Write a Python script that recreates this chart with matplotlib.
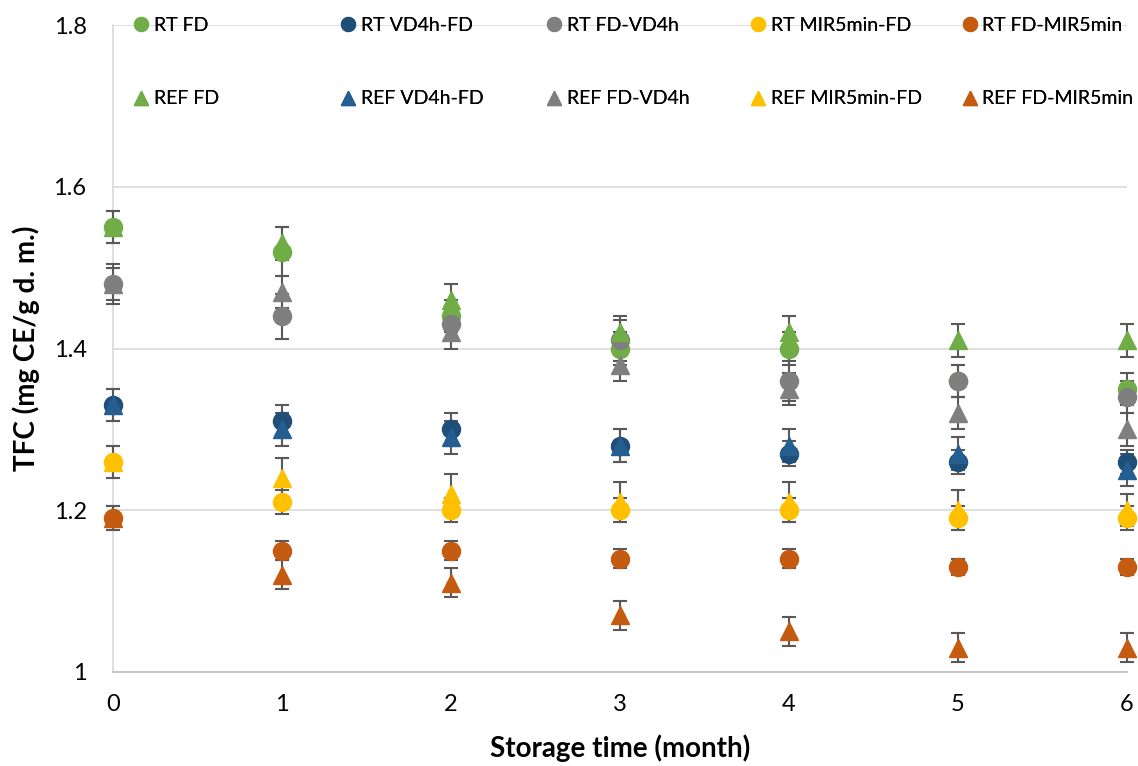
import matplotlib.pyplot as plt
from matplotlib.ticker import FuncFormatter
from matplotlib.lines import Line2D

plt.rcParams['font.family'] = ['Lato', 'DejaVu Sans']

months = [0, 1, 2, 3, 4, 5, 6]

# mean TFC values (mg CE/g d. m.)
rt_fd = [1.55, 1.52, 1.44, 1.40, 1.40, 1.36, 1.35]
rt_vd4h_fd = [1.33, 1.31, 1.30, 1.28, 1.27, 1.26, 1.26]
rt_fd_vd4h = [1.48, 1.44, 1.43, 1.41, 1.36, 1.36, 1.34]
rt_mir_fd = [1.26, 1.21, 1.20, 1.20, 1.20, 1.19, 1.19]
rt_fd_mir = [1.19, 1.15, 1.15, 1.14, 1.14, 1.13, 1.13]

ref_fd = [1.55, 1.53, 1.46, 1.42, 1.42, 1.41, 1.41]
ref_vd4h_fd = [1.33, 1.30, 1.29, 1.28, 1.28, 1.27, 1.25]
ref_fd_vd4h = [1.48, 1.47, 1.42, 1.38, 1.35, 1.32, 1.30]
ref_mir_fd = [1.26, 1.24, 1.22, 1.21, 1.21, 1.20, 1.20]
ref_fd_mir = [1.19, 1.12, 1.11, 1.07, 1.05, 1.03, 1.03]

# standard deviations (error bars)
rt_fd_err = [0.02, 0.03, 0.02, 0.02, 0.02, 0.02, 0.02]
rt_vd4h_fd_err = [0.02, 0.02, 0.02, 0.02, 0.015, 0.015, 0.015]
rt_fd_vd4h_err = [0.025, 0.028, 0.02, 0.025, 0.025, 0.02, 0.02]
rt_mir_fd_err = [0.02, 0.015, 0.015, 0.015, 0.015, 0.015, 0.015]
rt_fd_mir_err = [0.015, 0.012, 0.012, 0.012, 0.012, 0.01, 0.01]

ref_fd_err = [0.02, 0.02, 0.02, 0.02, 0.02, 0.02, 0.02]
ref_vd4h_fd_err = [0.02, 0.02, 0.02, 0.02, 0.02, 0.02, 0.02]
ref_fd_vd4h_err = [0.02, 0.02, 0.02, 0.02, 0.02, 0.02, 0.02]
ref_mir_fd_err = [0.02, 0.025, 0.025, 0.025, 0.025, 0.025, 0.02]
ref_fd_mir_err = [0.015, 0.018, 0.018, 0.018, 0.018, 0.018, 0.018]

rt_series = [
    ("RT FD", rt_fd, rt_fd_err, "#70AD47"),
    ("RT VD4h-FD", rt_vd4h_fd, rt_vd4h_fd_err, "#1F4E79"),
    ("RT FD-VD4h", rt_fd_vd4h, rt_fd_vd4h_err, "#7F7F7F"),
    ("RT MIR5min-FD", rt_mir_fd, rt_mir_fd_err, "#FFC000"),
    ("RT FD-MIR5min", rt_fd_mir, rt_fd_mir_err, "#C55A11"),
]
ref_series = [
    ("REF FD", ref_fd, ref_fd_err, "#70AD47"),
    ("REF VD4h-FD", ref_vd4h_fd, ref_vd4h_fd_err, "#255E91"),
    ("REF FD-VD4h", ref_fd_vd4h, ref_fd_vd4h_err, "#7F7F7F"),
    ("REF MIR5min-FD", ref_mir_fd, ref_mir_fd_err, "#FFC000"),
    ("REF FD-MIR5min", ref_fd_mir, ref_fd_mir_err, "#C55A11"),
]

fig = plt.figure(figsize=(11.38, 7.66), dpi=100)
ax = fig.add_axes([0.0993, 0.123, 0.8907, 0.844])

for name, vals, err, col in rt_series:
    ax.errorbar(months, vals, yerr=err, fmt='o', color=col, markersize=13,
                ecolor='#595959', elinewidth=1.5, capsize=5, capthick=1.5,
                clip_on=False, zorder=3)
for name, vals, err, col in ref_series:
    ax.errorbar(months, vals, yerr=err, fmt='^', color=col, markersize=13,
                ecolor='#595959', elinewidth=1.5, capsize=5, capthick=1.5,
                clip_on=False, zorder=3)

ax.set_xlim(0, 6)
ax.set_ylim(1.0, 1.8)
ax.set_xticks(months)
ax.set_yticks([1.0, 1.2, 1.4, 1.6, 1.8])
ax.yaxis.set_major_formatter(FuncFormatter(lambda v, p: ('%g' % round(v, 1))))
ax.tick_params(length=0, labelsize=17)
ax.tick_params(axis='x', pad=16)
ax.tick_params(axis='y', pad=19)
ax.grid(axis='y', color='#D9D9D9', linewidth=1.2)
ax.set_axisbelow(True)
for s in ['top', 'right']:
    ax.spines[s].set_visible(False)
ax.spines['left'].set_color('#D9D9D9')
ax.spines['bottom'].set_color('#BFBFBF')
ax.spines['left'].set_linewidth(1.2)
ax.spines['bottom'].set_linewidth(1.2)

ax.set_xlabel("Storage time (month)", fontsize=20, fontweight='bold', labelpad=14)
ax.set_ylabel("TFC (mg CE/g d. m.)", fontsize=20, fontweight='bold', labelpad=10)

# legend: five columns, circle row above triangle row
col_x = [0.108, 0.290, 0.471, 0.650, 0.836]
for i in range(5):
    h = [Line2D([], [], marker='o', linestyle='none', color=rt_series[i][3], markersize=10),
         Line2D([], [], marker='^', linestyle='none', color=ref_series[i][3], markersize=10)]
    lg = fig.legend(h, [rt_series[i][0], ref_series[i][0]], loc='upper left',
                    bbox_to_anchor=(col_x[i], 0.988), frameon=False, fontsize=14,
                    handletextpad=0.1, handlelength=1.1, labelspacing=2.9,
                    borderaxespad=0)
    fig.add_artist(lg)

fig.savefig("out.png", dpi=100)
